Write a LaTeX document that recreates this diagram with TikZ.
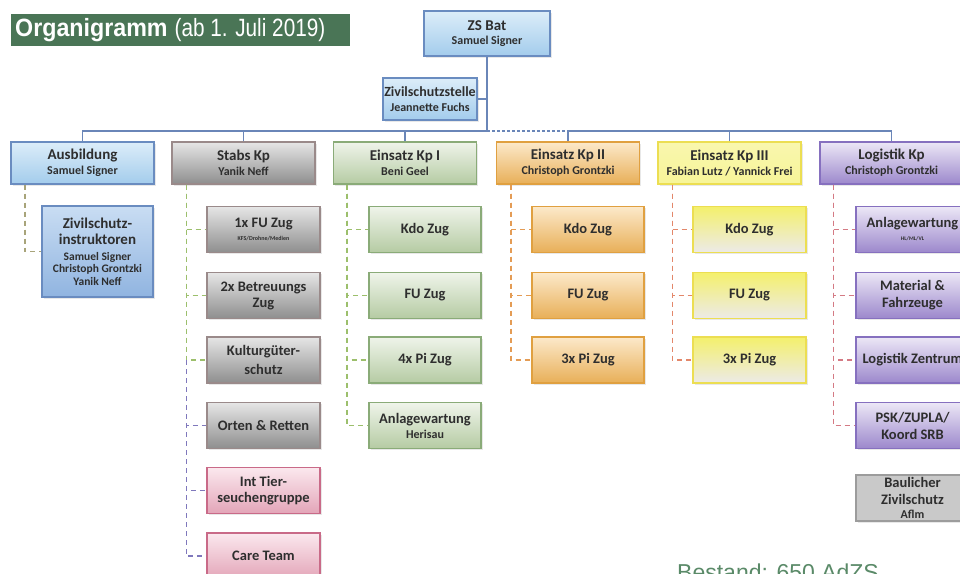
\documentclass[tikz,border=0pt]{standalone}
\usepackage{fontspec}
\setmainfont{Carlito}
\newfontfamily\titlefont{Liberation Sans}
\usetikzlibrary{shadows}
\definecolor{txt}{HTML}{2E2E2E}
\definecolor{bannergreen}{HTML}{4A7556}
\definecolor{bestandgreen}{HTML}{5A8A68}
\definecolor{lineblue}{HTML}{6A86B8}
\definecolor{bluebd}{HTML}{6A8CC0}
\definecolor{bluet}{HTML}{DCEDF9}
\definecolor{blueb}{HTML}{A3CCEC}
\definecolor{blue2t}{HTML}{C9DDF3}
\definecolor{blue2b}{HTML}{90B4E0}
\definecolor{graybd}{HTML}{9A8A8A}
\definecolor{grayt}{HTML}{E6E6E6}
\definecolor{grayb}{HTML}{8E8E8E}
\definecolor{greenbd}{HTML}{8AAB78}
\definecolor{greent}{HTML}{EFF4EA}
\definecolor{greenb}{HTML}{B5CBA3}
\definecolor{orangebd}{HTML}{E0A040}
\definecolor{oranget}{HTML}{FCE9CA}
\definecolor{orangeb}{HTML}{E8AF58}
\definecolor{yellowbd}{HTML}{ECDE52}
\definecolor{yellowt}{HTML}{F4F06C}
\definecolor{yellowb}{HTML}{ECEAE8}
\definecolor{purplebd}{HTML}{8670BF}
\definecolor{purplet}{HTML}{ECE7F6}
\definecolor{purpleb}{HTML}{9C88CC}
\definecolor{pinkbd}{HTML}{C96A88}
\definecolor{pinkt}{HTML}{FBE8EE}
\definecolor{pinkb}{HTML}{E3A5B8}
\definecolor{baugray}{HTML}{C9C9C9}
\definecolor{baubd}{HTML}{9C9C9C}
\definecolor{dausb}{HTML}{A8A47A}
\definecolor{dgreen}{HTML}{9CBF6C}
\definecolor{dpurple}{HTML}{7F78BC}
\definecolor{dorange}{HTML}{E49C55}
\definecolor{dred}{HTML}{E3876A}
\definecolor{dpink}{HTML}{D47A84}
\newcommand\bigtx[1]{{\fontsize{15}{16}\selectfont #1}}
\newcommand\smalltx[1]{{\fontsize{12}{13}\selectfont #1}}
\newcommand\nametx[1]{{\fontsize{11.5}{11.5}\selectfont #1}}
\newcommand\subtx[1]{{\fontsize{14.5}{16}\selectfont #1}}
\begin{document}
\begin{tikzpicture}[x=1pt,y=-1pt,
  box/.style={draw, line width=1.2pt, align=center, inner sep=1pt, text=txt,
    font=\bfseries, drop shadow={opacity=0.18, shadow xshift=1.5pt, shadow yshift=-1.5pt}},
  hdrbox/.style={box, minimum width=143pt, minimum height=42pt},
  subbox/.style={box, minimum width=113pt, minimum height=46pt},
  blueb/.style={draw=bluebd, top color=bluet, bottom color=blueb},
  blue2/.style={draw=bluebd, top color=blue2t, bottom color=blue2b},
  grayb/.style={draw=graybd, top color=grayt, bottom color=grayb},
  greenb/.style={draw=greenbd, top color=greent, bottom color=greenb},
  orangeb/.style={draw=orangebd, top color=oranget, bottom color=orangeb},
  yellowb/.style={draw=yellowbd, top color=yellowt, bottom color=yellowb},
  purpleb/.style={draw=purplebd, top color=purplet, bottom color=purpleb},
  pinkb/.style={draw=pinkbd, top color=pinkt, bottom color=pinkb},
  topline/.style={draw=lineblue, line width=1.3pt},
  link/.style={line width=1.6pt, dash pattern=on 5pt off 4pt}
]
\path[use as bounding box] (0,0) rectangle (960,573);
\clip (0,0) rectangle (960,573);
\fill[white] (0,0) rectangle (960,573);

% title banner
\fill[bannergreen] (11,14) rectangle (350,46);
\node[anchor=west, inner sep=0pt, text=white, font=\titlefont] (title) at (15,30)
  {\fontsize{25}{27}\selectfont\scalebox{0.93}[1]{\bfseries Organigramm}\ \scalebox{0.83}[1]{(ab 1. Juli 2019)}};

% top
\node[box, blueb, minimum width=126pt, minimum height=45pt] (zs) at (487,33.5)
  {\bigtx{ZS Bat}\\[2pt]\smalltx{Samuel Signer}};
\node[box, blueb, minimum width=94pt, minimum height=42pt] (zst) at (430,99)
  {{\fontsize{14}{15}\selectfont Zivilschutzstelle}\\[3pt]\smalltx{Jeannette Fuchs}};

% headers
\node[hdrbox, blueb] (aus) at (82.5,163) {\bigtx{Ausbildung}\\[3pt]\smalltx{Samuel Signer}};
\node[hdrbox, grayb] (stabs) at (243.5,163) {\bigtx{Stabs Kp}\\[3pt]\smalltx{Yanik Neff}};
\node[hdrbox, greenb] (ekone) at (405,163) {\bigtx{Einsatz Kp I}\\[3pt]\smalltx{Beni Geel}};
\node[hdrbox, orangeb] (ektwo) at (568,163) {\bigtx{Einsatz Kp II}\\[3pt]\smalltx{Christoph Grontzki}};
\node[hdrbox, yellowb, top color=yellowt!55!white, bottom color=yellowt!70!white] (ekthree) at (729.5,163) {\bigtx{Einsatz Kp III}\\[3pt]\smalltx{Fabian Lutz / Yannick Frei}};
\node[hdrbox, purpleb] (log) at (891.5,163) {\bigtx{Logistik Kp}\\[3pt]\smalltx{Christoph Grontzki}};

% top connectors
\coordinate (bus) at (487,131);
\draw[topline] (zs.south) -- (bus);
\draw[topline] (zst.east) -- (zst.east -| zs.south);
\draw[topline] (aus.north) -- (aus.north |- bus) -- (bus);
\draw[topline, dash pattern=on 3pt off 2pt] (bus) -- (ektwo.north |- bus);
\draw[topline] (ektwo.north |- bus) -- (log.north |- bus) -- (log.north);
\foreach \n in {stabs, ekone, ektwo, ekthree} \draw[topline] (\n.north) -- (\n.north |- bus);

% Ausbildung
\node[box, blue2, minimum width=111pt, minimum height=91pt] (instr) at (97.5,251.5)
  {\bigtx{Zivilschutz-}\\[4pt]\bigtx{instruktoren}\\[4pt]\nametx{Samuel Signer}\\[0pt]\nametx{Christoph Grontzki}\\[1pt]\nametx{Yanik Neff}};
\draw[link, draw=dausb] ([xshift=14.5pt]aus.south west) |- (instr.west);

% Stabs Kp
\node[subbox, grayb] (fu) at (263.5,229.5) {\subtx{1x FU Zug}\\[1pt]{\fontsize{6}{7}\selectfont KFS/Drohne/Medien}};
\node[subbox, grayb] (betr) at (263.5,295.5) {\subtx{2x Betreuungs}\\[4pt]\subtx{Zug}};
\node[subbox, grayb] (kgs) at (263.5,360) {\subtx{Kulturgüter-}\\[5pt]\subtx{schutz}};
\node[subbox, grayb] (ort) at (263.5,425.5) {\subtx{Orten \& Retten}};
\node[subbox, pinkb] (tier) at (263.5,490.5) {\subtx{Int Tier-}\\[4pt]\subtx{seuchengruppe}};
\node[subbox, pinkb] (care) at (263.5,556) {\subtx{Care Team}};
\foreach \n in {fu, betr, kgs} \draw[link, draw=dgreen] ([xshift=15pt]stabs.south west) |- (\n.west);
\coordinate (stabsmid) at ([xshift=-20pt]kgs.west);
\foreach \n in {ort, tier, care} \draw[link, draw=dpurple] (stabsmid) |- (\n.west);

% Einsatz Kp I
\node[subbox, greenb, minimum width=112pt] (eakdo) at (425,229.5) {\subtx{Kdo Zug}};
\node[subbox, greenb, minimum width=112pt] (eafu) at (425,295.5) {\subtx{FU Zug}};
\node[subbox, greenb, minimum width=112pt] (eapi) at (425,360) {\subtx{4x Pi Zug}};
\node[subbox, greenb, minimum width=112pt] (eaanl) at (425,425.5) {\subtx{Anlagewartung}\\[3pt]\smalltx{Herisau}};
\foreach \n in {eakdo, eafu, eapi, eaanl} \draw[link, draw=dgreen] ([xshift=14pt]ekone.south west) |- (\n.west);

% Einsatz Kp II
\node[subbox, orangeb, minimum width=112pt] (ebkdo) at (588,229.5) {\subtx{Kdo Zug}};
\node[subbox, orangeb, minimum width=112pt] (ebfu) at (588,295.5) {\subtx{FU Zug}};
\node[subbox, orangeb, minimum width=112pt] (ebpi) at (588,360) {\subtx{3x Pi Zug}};
\foreach \n in {ebkdo, ebfu, ebpi} \draw[link, draw=dorange] ([xshift=15pt]ektwo.south west) |- (\n.west);

% Einsatz Kp III
\node[subbox, yellowb] (eckdo) at (749.5,229.5) {\subtx{Kdo Zug}};
\node[subbox, yellowb] (ecfu) at (749.5,295.5) {\subtx{FU Zug}};
\node[subbox, yellowb] (ecpi) at (749.5,360) {\subtx{3x Pi Zug}};
\foreach \n in {eckdo, ecfu, ecpi} \draw[link, draw=dred] ([xshift=15pt]ekthree.south west) |- (\n.west);

% Logistik Kp
\node[subbox, purpleb] (lanl) at (912.5,229.5) {\subtx{Anlagewartung}\\[1pt]{\fontsize{5.5}{6}\selectfont HL/ML/VL}};
\node[subbox, purpleb] (lmat) at (912.5,295.5) {\subtx{Material \&}\\[5pt]\subtx{Fahrzeuge}};
\node[subbox, purpleb] (lzen) at (912.5,360) {\subtx{Logistik Zentrum}};
\node[subbox, purpleb] (lpsk) at (912.5,425.5) {\subtx{PSK/ZUPLA/}\\[5pt]\subtx{Koord SRB}};
\foreach \n in {lanl, lmat, lzen, lpsk} \draw[link, draw=dpink] ([xshift=14pt]log.south west) |- (\n.west);
\node[subbox, draw=baubd, fill=baugray, drop shadow={opacity=0}] (bau) at (912.5,498)
  {\subtx{Baulicher}\\[5pt]\subtx{Zivilschutz}\\[2pt]\smalltx{Aflm}};

% Bestand
\node[anchor=base west, inner sep=0pt, text=bestandgreen, font=\titlefont] (bestand) at (677,580)
  {\fontsize{23}{25}\selectfont Bestand: 650 AdZS};
\end{tikzpicture}
\end{document}
